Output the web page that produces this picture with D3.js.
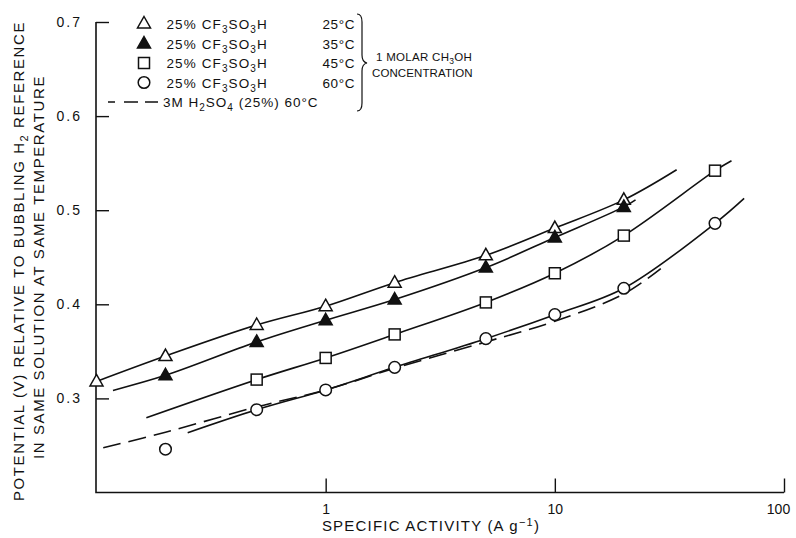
<!DOCTYPE html>
<html>
<head>
<meta charset="utf-8">
<script src="https://d3js.org/d3.v7.min.js"></script>
<style>
body { margin: 0; background: #fff; }
text { font-family: "Liberation Sans", Arial, sans-serif; fill: #111; }
</style>
</head>
<body>
<svg width="796" height="538"></svg>
<script>
// values: specific activity (A/g) vs potential (V)
const activity = [0.1, 0.2, 0.5, 1, 2, 5, 10, 20, 50];
const cf25 = [0.318, 0.345, 0.378, 0.398, 0.423, 0.452, 0.481, 0.511, null];
const cf35 = [null, 0.3245, 0.360, 0.383, 0.405, 0.439, 0.471, 0.5035, null];
const cf45 = [null, null, 0.320, 0.343, 0.368, 0.402, 0.433, 0.473, 0.542];
const cf60 = [null, 0.246, 0.288, 0.309, 0.333, 0.3635, 0.389, 0.417, 0.486];

// hand drawn fit curves [activity, potential]
const fit25 = [[0.1, 0.318], [0.2, 0.345], [0.5, 0.378], [1, 0.398], [2, 0.423], [5, 0.452], [10, 0.481], [20, 0.511], [34, 0.543]];
const fit35 = [[0.118, 0.3085], [0.2, 0.3245], [0.5, 0.360], [1, 0.383], [2, 0.405], [5, 0.439], [10, 0.471], [20, 0.5035], [22.5, 0.511]];
const fit45 = [[0.165, 0.2795], [0.5, 0.320], [1, 0.343], [2, 0.368], [5, 0.402], [10, 0.433], [20, 0.473], [50, 0.542], [59, 0.5525]];
const fit60 = [[0.25, 0.2635], [0.5, 0.288], [1, 0.309], [2, 0.333], [5, 0.3635], [10, 0.389], [20, 0.417], [50, 0.486], [67, 0.5125]];
const h2so4 = [[0.107, 0.2475], [0.2, 0.264], [0.5, 0.291], [1, 0.309], [2, 0.332], [5, 0.360], [10, 0.382], [20, 0.411], [29, 0.438]];

const xTicks = [1, 10, 100];
const yTicks = [0.3, 0.4, 0.5, 0.6, 0.7];
const yTickLabels = ["0.3", "0.4", "0.5", "0.6", "0.7"];
const legendTemps = ["25\u00B0C", "35\u00B0C", "45\u00B0C", "60\u00B0C"];
const markers = ["open", "filled", "square", "circle"];

const svg = d3.select("svg");
const x = d3.scaleLog().domain([0.1, 100]).range([96.5, 784]);
const y = d3.scaleLinear().domain([0.2, 0.7]).range([492.5, 22]);

// axes
svg.append("path")
  .attr("d", "M" + (x(0.1) - 0.5) + "," + y(0.7) + "V" + y(0.2) + "H" + x(100))
  .attr("fill", "none").attr("stroke", "#111").attr("stroke-width", 1.6);

const yAxis = svg.append("g").attr("transform", "translate(" + (x(0.1) - 0.5) + ",0)")
  .call(d3.axisLeft(y).tickValues(yTicks).tickSize(-13).tickPadding(14)
    .tickFormat((d, i) => yTickLabels[i]));
yAxis.select(".domain").remove();
yAxis.selectAll("line").attr("stroke", "#111").attr("stroke-width", 1.4);
yAxis.selectAll("text").attr("font-size", 14).attr("letter-spacing", 2)
  .style("font-family", "Liberation Sans").attr("fill", "#333");

const xAxis = svg.append("g").attr("transform", "translate(0," + y(0.2) + ")")
  .call(d3.axisBottom(x).tickValues(xTicks).tickSize(-14).tickPadding(12)
    .tickFormat(d3.format("d")));
xAxis.select(".domain").remove();
xAxis.selectAll("line").attr("stroke", "#111").attr("stroke-width", 1.4);
xAxis.selectAll("text").attr("font-size", 14)
  .style("font-family", "Liberation Sans").attr("fill", "#333")
  .attr("dx", d => d === 100 ? -6 : 0);

// axis titles
const xl = svg.append("text").attr("x", 431).attr("y", 531).attr("text-anchor", "middle")
  .attr("font-size", 15).attr("letter-spacing", 1.2);
xl.append("tspan").text("SPECIFIC ACTIVITY (A g");
xl.append("tspan").attr("dy", -5).attr("font-size", 11).text("\u22121");
xl.append("tspan").attr("dy", 5).text(")");

const yl1 = svg.append("text").attr("transform", "translate(24,261) rotate(-90)")
  .attr("text-anchor", "middle").attr("font-size", 15).attr("letter-spacing", 1.6);
yl1.append("tspan").text("POTENTIAL (V) RELATIVE TO BUBBLING H");
yl1.append("tspan").attr("dy", 4).attr("font-size", 11).text("2");
yl1.append("tspan").attr("dy", -4).text(" REFERENCE");

svg.append("text").attr("transform", "translate(44,267) rotate(-90)")
  .attr("text-anchor", "middle").attr("font-size", 15).attr("letter-spacing", 1.6)
  .text("IN SAME SOLUTION AT SAME TEMPERATURE");

// curves
const line = d3.line().x(d => x(d[0])).y(d => y(d[1])).curve(d3.curveCatmullRom.alpha(0.5));
[fit25, fit35, fit45, fit60].forEach(f => {
  svg.append("path").attr("d", line(f)).attr("fill", "none")
    .attr("stroke", "#111").attr("stroke-width", 1.6);
});
svg.append("path").attr("d", line(h2so4)).attr("fill", "none")
  .attr("stroke", "#111").attr("stroke-width", 1.6).attr("stroke-dasharray", "18,8");

// markers
function marker(g, kind, cx, cy) {
  if (kind === "open" || kind === "filled") {
    g.append("path").attr("d", "M" + cx + "," + (cy - 7) + "L" + (cx + 6.5) + "," + (cy + 4.5) + "L" + (cx - 6.5) + "," + (cy + 4.5) + "Z")
      .attr("fill", kind === "filled" ? "#111" : "#fff").attr("stroke", "#111").attr("stroke-width", 1.5);
  } else if (kind === "square") {
    g.append("rect").attr("x", cx - 5.5).attr("y", cy - 5.5).attr("width", 11).attr("height", 11)
      .attr("fill", "#fff").attr("stroke", "#111").attr("stroke-width", 1.5);
  } else {
    g.append("circle").attr("cx", cx).attr("cy", cy).attr("r", 5.8)
      .attr("fill", "#fff").attr("stroke", "#111").attr("stroke-width", 1.5);
  }
}
const pts = svg.append("g");
[cf25, cf35, cf45, cf60].forEach((s, k) => {
  s.forEach((v, i) => { if (v != null) marker(pts, markers[k], x(activity[i]), y(v)); });
});

// legend
const legY = [23.5, 43.5, 63, 82.5];
const leg = svg.append("g");
legY.forEach((ly, k) => {
  marker(leg, markers[k], 144, ly);
  const t = leg.append("text").attr("x", 166.5).attr("y", ly + 5).attr("font-size", 13.5).attr("letter-spacing", 1.1);
  t.append("tspan").text("25% CF");
  t.append("tspan").attr("dy", 4).attr("font-size", 10).text("3");
  t.append("tspan").attr("dy", -4).text("SO");
  t.append("tspan").attr("dy", 4).attr("font-size", 10).text("3");
  t.append("tspan").attr("dy", -4).text("H");
  leg.append("text").attr("x", 322.5).attr("y", ly + 5).attr("font-size", 13.5).attr("letter-spacing", 0.6)
    .text(legendTemps[k]);
});
leg.append("line").attr("x1", 108).attr("x2", 161).attr("y1", 102).attr("y2", 102)
  .attr("stroke", "#111").attr("stroke-width", 1.4).attr("stroke-dasharray", "7,9,14,7,13");
const lt = leg.append("text").attr("x", 163).attr("y", 107).attr("font-size", 13.5).attr("letter-spacing", 1);
lt.append("tspan").text("3M H");
lt.append("tspan").attr("dy", 4).attr("font-size", 10).text("2");
lt.append("tspan").attr("dy", -4).text("SO");
lt.append("tspan").attr("dy", 4).attr("font-size", 10).text("4");
lt.append("tspan").attr("dy", -4).text(" (25%) 60\u00B0C");

// brace
leg.append("path")
  .attr("d", "M357,14 Q362,14 362,22 L362,55 Q362,62 367,63 Q362,64 362,71 L362,103 Q362,111 357,111")
  .attr("fill", "none").attr("stroke", "#111").attr("stroke-width", 1.2);

const m1 = leg.append("text").attr("x", 376).attr("y", 61).attr("font-size", 11.5).attr("letter-spacing", 0.3);
m1.append("tspan").text("1 MOLAR CH");
m1.append("tspan").attr("dy", 3).attr("font-size", 8.5).text("3");
m1.append("tspan").attr("dy", -3).text("OH");
leg.append("text").attr("x", 372).attr("y", 77).attr("font-size", 11.5).attr("letter-spacing", 0.1)
  .text("CONCENTRATION");
</script>
</body>
</html>
